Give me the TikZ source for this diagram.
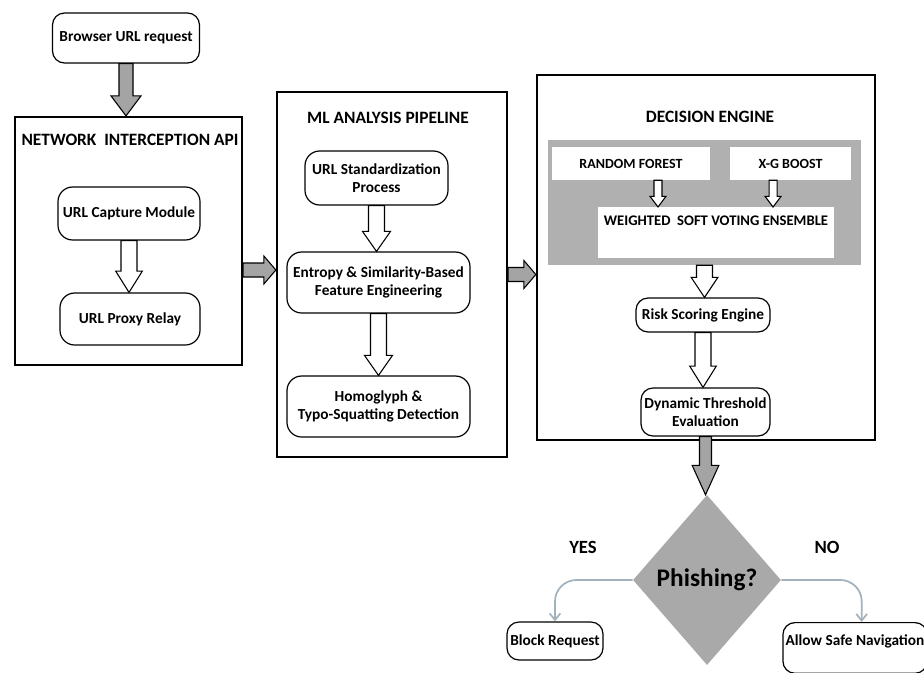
\documentclass[tikz,border=0pt]{standalone}
\usepackage{fontspec}
\setmainfont{Carlito}
\usetikzlibrary{arrows.meta,calc,shapes.geometric}
\definecolor{arrgray}{HTML}{A4A4A4}
\definecolor{panelgray}{HTML}{B0B0B0}
\definecolor{diagray}{HTML}{A9A9A9}
\definecolor{linkcol}{HTML}{A2B2BD}
% vertical block arrow: fill, from, to, shaft half width, head half width, head length
\newcommand\vblockarrow[6]{\draw[blockarrow,fill=#1] let \p1=(#2),\p2=(#3) in
  (\x1-#4,\y1) -- (\x1-#4,\y2+#6) -- (\x1-#5,\y2+#6) -- (\x1,\y2) -- (\x1+#5,\y2+#6) -- (\x1+#4,\y2+#6) -- (\x1+#4,\y1) -- cycle;}
% horizontal block arrow
\newcommand\hblockarrow[6]{\draw[blockarrow,fill=#1] let \p1=(#2),\p2=(#3) in
  (\x1,\y1+#4) -- (\x2-#6,\y1+#4) -- (\x2-#6,\y1+#5) -- (\x2,\y1) -- (\x2-#6,\y1-#5) -- (\x2-#6,\y1-#4) -- (\x1,\y1-#4) -- cycle;}
\begin{document}
\begin{tikzpicture}[x=0.75pt,y=-0.75pt,
  every node/.style={font=\bfseries\fontsize{11.5}{13.5}\selectfont, align=center, inner sep=2pt},
  container/.style={draw, line width=1.7pt, minimum width=#1},
  rbox/.style={draw, line width=0.9pt, rounded corners=9pt},
  wbox/.style={fill=white, font=\bfseries\fontsize{10.5}{12.5}\selectfont},
  title/.style={font=\bfseries\fontsize{13}{15}\selectfont},
  blockarrow/.style={draw=black, line width=0.8pt, line join=miter},
  link/.style={draw=linkcol, line width=1.3pt, rounded corners=16pt, -{Straight Barb[length=5pt,width=8pt]}}]
\useasboundingbox (0,0) rectangle (924,672);

% containers
\node[container=170.25pt, minimum height=186pt] (net) at (128.5,241) {};
\node[container=172.5pt, minimum height=273.75pt] (ml) at (392,274.5) {};
\node[container=253.5pt, minimum height=273.75pt] (dec) at (706,257.5) {};

\node[title] (nettitle) at (130,140) {NETWORK\ \ INTERCEPTION API};
\node[title] (mltitle) at (388,118) {ML ANALYSIS PIPELINE};
\node[title] (dectitle) at (710,117) {DECISION ENGINE};

% left column
\node[rbox, minimum width=110.25pt, minimum height=37.5pt] (browser) at (126,38) {Browser URL request};
\node[rbox, rounded corners=11pt, minimum width=106.5pt, minimum height=39.75pt] (cap) at (129,213.5) {URL Capture Module};
\node[rbox, rounded corners=11pt, minimum width=105pt, minimum height=39pt] (proxy) at (130,319) {URL Proxy Relay};

% middle column
\node[rbox, rounded corners=11pt, minimum width=107.25pt, minimum height=40.5pt] (std) at (376.5,178) {URL Standardization\\Process};
\node[rbox, rounded corners=11pt, minimum width=137.25pt, minimum height=45.75pt] (ent) at (378.5,282.5) {Entropy \& Similarity-Based\\Feature Engineering};
\node[rbox, rounded corners=11pt, minimum width=137.25pt, minimum height=45.75pt] (homo) at (378.5,406.5) {Homoglyph \&\\Typo-Squatting Detection};

% decision engine
\node[fill=panelgray, minimum width=234.75pt, minimum height=93.75pt] (panel) at (704.5,202.5) {};
\node[wbox, minimum width=118.5pt, minimum height=24.75pt] (rf) at (631,163.5) {RANDOM FOREST};
\node[wbox, minimum width=90.75pt, minimum height=24.75pt] (xg) at (790.5,163.5) {X-G BOOST};
\node[wbox, anchor=north, minimum width=177pt, text height=10pt, text depth=20pt, inner ysep=4pt, font=\bfseries\fontsize{11}{13}\selectfont] (wse) at (716,207) {WEIGHTED\ \ SOFT VOTING ENSEMBLE};
\node[rbox, minimum width=100.5pt, minimum height=25.5pt] (risk) at (703,315) {Risk Scoring Engine};
\node[rbox, minimum width=96.75pt, minimum height=36pt] (dyn) at (705.5,412) {Dynamic Threshold\\Evaluation};

% decision
\node[diamond, fill=diagray, minimum width=111pt, minimum height=127.5pt, inner sep=0pt, font=\bfseries\fontsize{19}{22}\selectfont] (dia) at (707,580) {Phishing?};
\node[font=\bfseries\fontsize{14}{16}\selectfont] (yes) at (583,547) {YES};
\node[font=\bfseries\fontsize{14}{16}\selectfont] (no) at (827,547) {NO};
\node[rbox, minimum width=72pt, minimum height=28.5pt] (block) at (555,641) {Block Request};
\node[rbox, anchor=north, minimum width=100.5pt, text height=13pt, text depth=17pt, inner ysep=4pt] (allow) at (855,622) {Allow Safe Navigation};

% block arrows
\vblockarrow{arrgray}{browser.south}{net.north}{5.25pt}{11.25pt}{15pt}
\vblockarrow{white}{cap.south}{proxy.north}{6pt}{10pt}{16pt}
\hblockarrow{arrgray}{[yshift=-21.75pt]net.east}{ml.west}{5.25pt}{10.5pt}{9pt}
\vblockarrow{white}{std.south}{ent.north}{6pt}{10.5pt}{15pt}
\vblockarrow{white}{ent.south}{homo.north}{6pt}{10.5pt}{15pt}
\hblockarrow{arrgray}{ml.east}{dec.west}{5.25pt}{10.5pt}{9pt}
\vblockarrow{white}{[xshift=20.25pt]rf.south}{wse.north}{3pt}{6pt}{8pt}
\vblockarrow{white}{[xshift=-13.1pt]xg.south}{wse.north}{3pt}{6pt}{8pt}
\vblockarrow{white}{panel.south}{risk.north}{6pt}{10pt}{15pt}
\vblockarrow{white}{risk.south}{dyn.north}{6pt}{10pt}{16pt}
\vblockarrow{arrgray}{dyn.south}{dia.north}{4.5pt}{10pt}{22pt}

% outcome links
\draw[link] (dia.west) -| (block.north);
\draw[link] (dia.east) -| ([xshift=5pt]allow.north);
\end{tikzpicture}
\end{document}
